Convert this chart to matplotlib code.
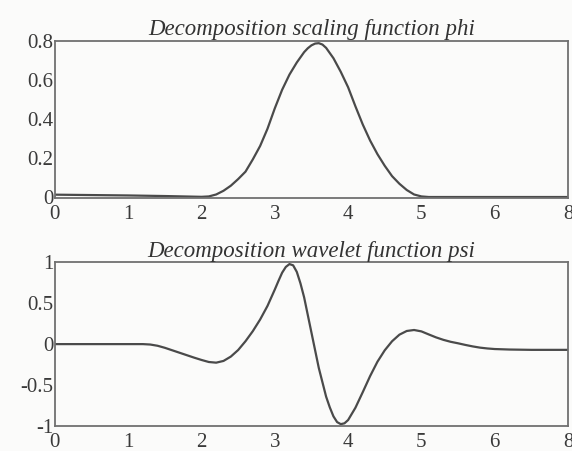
import numpy as np
import matplotlib
matplotlib.use("Agg")
import matplotlib.pyplot as plt

plt.rcParams['font.family'] = ['Liberation Serif', 'DejaVu Serif']

# scaling function phi
phi_x = [0, 1.0, 1.5, 2.0, 2.1, 2.2, 2.3, 2.4, 2.5, 2.6, 2.7, 2.8, 2.9, 3.0,
         3.1, 3.2, 3.3, 3.4, 3.45, 3.5, 3.55, 3.6, 3.65, 3.7, 3.8, 3.9, 4.0,
         4.1, 4.2, 4.3, 4.4, 4.5, 4.6, 4.7, 4.8, 4.9, 5.0, 5.1, 6.0, 7.0]
phi_y = [0.012, 0.008, 0.005, 0.001, 0.003, 0.013, 0.032, 0.058, 0.092, 0.13,
         0.193, 0.262, 0.35, 0.455, 0.55, 0.628, 0.69, 0.743, 0.763, 0.778,
         0.787, 0.789, 0.782, 0.765, 0.712, 0.642, 0.563, 0.465, 0.372,
         0.29, 0.22, 0.16, 0.107, 0.068, 0.036, 0.013, 0.003, 0.0, 0.0, 0.0]

# wavelet function psi
psi_x = [0, 1.2, 1.3, 1.4, 1.5, 1.6, 1.7, 1.8, 1.9, 2.0, 2.1, 2.2, 2.3, 2.4,
         2.5, 2.6, 2.7, 2.8, 2.9, 3.0, 3.05, 3.1, 3.15, 3.2, 3.25, 3.3, 3.35,
         3.4, 3.5, 3.6, 3.7, 3.75, 3.8, 3.85, 3.9, 3.95, 4.0, 4.1, 4.2, 4.3,
         4.4, 4.5, 4.6, 4.7, 4.8, 4.9, 5.0, 5.1, 5.2, 5.3, 5.4, 5.5, 5.6,
         5.7, 5.8, 5.9, 6.0, 6.2, 6.5, 7.0]
psi_y = [0, 0, -0.005, -0.02, -0.045, -0.075, -0.105, -0.135, -0.165, -0.193,
         -0.218, -0.226, -0.205, -0.152, -0.072, 0.035, 0.158, 0.30, 0.465,
         0.665, 0.77, 0.87, 0.94, 0.975, 0.96, 0.88, 0.74, 0.57, 0.14,
         -0.29, -0.64, -0.77, -0.88, -0.95, -0.975, -0.965, -0.925, -0.775,
         -0.585, -0.39, -0.215, -0.075, 0.035, 0.115, 0.16, 0.172, 0.155,
         0.118, 0.082, 0.052, 0.028, 0.01, -0.01, -0.028, -0.043, -0.053,
         -0.06, -0.066, -0.07, -0.07]

x_ticks = [0, 1, 2, 3, 4, 5, 6, 7]
x_labels = ['0', '1', '2', '3', '4', '5', '6', '8']
phi_ticks = [0, 0.2, 0.4, 0.6, 0.8]
phi_labels = ['0', '0.2', '0.4', '0.6', '0.8']
psi_ticks = [-1, -0.5, 0, 0.5, 1]
psi_labels = ['-1', '-0.5', '0', '0.5', '1']

line_col = '#4a4a4a'
frame_col = '#707070'
bg = '#fbfbfa'

fig = plt.figure(figsize=(5.72, 4.51), dpi=100)
fig.patch.set_facecolor(bg)

ax1 = fig.add_axes([0.096, 0.561, 0.897, 0.348])
ax2 = fig.add_axes([0.096, 0.055, 0.897, 0.364])

for ax in (ax1, ax2):
    ax.set_facecolor(bg)
    for s in ax.spines.values():
        s.set_color(frame_col)
        s.set_linewidth(1.3)
    ax.set_xlim(0, 7)
    ax.set_xticks(x_ticks)
    ax.set_xticklabels(x_labels)
    ax.tick_params(direction='in', length=0, labelsize=15, colors='#3a3a3a')
    ax.tick_params(axis='y', pad=1)
    ax.tick_params(axis='x', pad=5)

ax1.plot(phi_x, phi_y, color=line_col, lw=1.6)
ax1.set_ylim(-0.005, 0.8)
ax1.set_yticks(phi_ticks)
ax1.set_yticklabels(phi_labels)
ax1.set_title('Decomposition scaling function phi', style='italic',
              fontsize=16.5, color='#333333', pad=4)

ax2.plot(psi_x, psi_y, color=line_col, lw=1.6)
ax2.set_ylim(-1, 1)
ax2.set_yticks(psi_ticks)
ax2.set_yticklabels(psi_labels)
ax2.set_title('Decomposition wavelet function psi', style='italic',
              fontsize=16.5, color='#333333', pad=3)

fig.savefig('out.png', dpi=100, facecolor=fig.get_facecolor())
